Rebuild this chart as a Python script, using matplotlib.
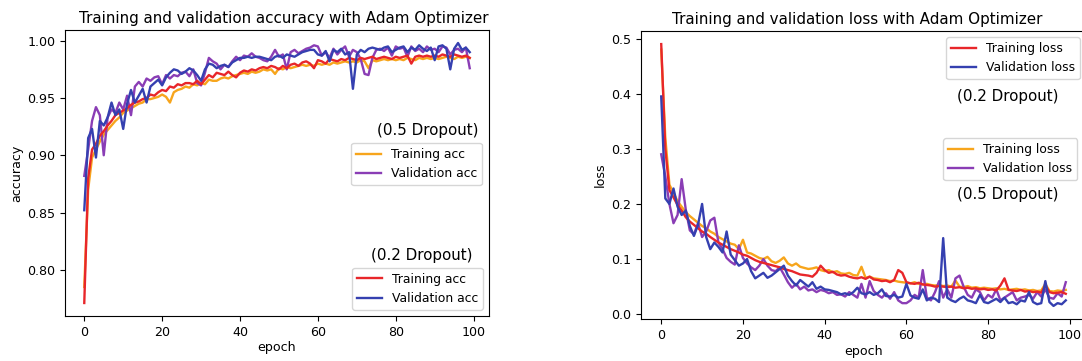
import numpy as np
import matplotlib.pyplot as plt

# --------- accuracy histories (100 epochs) ---------

acc_tr_02 = [0.771, 0.880, 0.905, 0.910, 0.917, 0.921, 0.926, 0.930, 0.935, 0.937,
             0.939, 0.941, 0.944, 0.946, 0.947, 0.949, 0.950, 0.953, 0.952, 0.955,
             0.957, 0.956, 0.960, 0.959, 0.962, 0.961, 0.963, 0.963, 0.962, 0.965,
             0.962, 0.966, 0.970, 0.968, 0.972, 0.971, 0.970, 0.973, 0.970, 0.968,
             0.972, 0.974, 0.973, 0.975, 0.974, 0.976, 0.977, 0.976, 0.978, 0.977,
             0.975, 0.978, 0.976, 0.979, 0.980, 0.978, 0.981, 0.982, 0.980, 0.976,
             0.983, 0.982, 0.980, 0.984, 0.983, 0.982, 0.984, 0.983, 0.985, 0.984,
             0.983, 0.985, 0.984, 0.985, 0.986, 0.984, 0.985, 0.986, 0.985, 0.984,
             0.986, 0.985, 0.986, 0.987, 0.980, 0.986, 0.987, 0.986, 0.987, 0.986,
             0.987, 0.986, 0.988, 0.987, 0.986, 0.988, 0.987, 0.986, 0.987, 0.985]

acc_val_02 = [0.852, 0.915, 0.923, 0.898, 0.930, 0.926, 0.933, 0.946, 0.935, 0.940,
              0.923, 0.945, 0.957, 0.946, 0.952, 0.958, 0.946, 0.960, 0.963, 0.966,
              0.961, 0.968, 0.972, 0.975, 0.974, 0.971, 0.973, 0.976, 0.974, 0.970,
              0.965, 0.975, 0.980, 0.979, 0.976, 0.978, 0.979, 0.977, 0.981, 0.983,
              0.985, 0.985, 0.986, 0.985, 0.986, 0.986, 0.985, 0.984, 0.983, 0.986,
              0.987, 0.985, 0.988, 0.987, 0.986, 0.988, 0.990, 0.991, 0.992, 0.992,
              0.988, 0.987, 0.991, 0.982, 0.992, 0.990, 0.993, 0.988, 0.990, 0.958,
              0.988, 0.992, 0.990, 0.993, 0.994, 0.993, 0.992, 0.994, 0.995, 0.990,
              0.992, 0.994, 0.995, 0.990, 0.994, 0.992, 0.996, 0.993, 0.991, 0.994,
              0.983, 0.995, 0.996, 0.993, 0.975, 0.993, 0.998, 0.992, 0.994, 0.990]

acc_tr_05 = [0.785, 0.870, 0.898, 0.905, 0.912, 0.918, 0.922, 0.926, 0.930, 0.933,
             0.937, 0.939, 0.941, 0.943, 0.945, 0.946, 0.949, 0.949, 0.950, 0.951,
             0.953, 0.951, 0.946, 0.955, 0.957, 0.958, 0.960, 0.959, 0.962, 0.961,
             0.963, 0.962, 0.966, 0.965, 0.965, 0.967, 0.968, 0.967, 0.969, 0.970,
             0.971, 0.972, 0.971, 0.973, 0.972, 0.973, 0.975, 0.974, 0.975, 0.971,
             0.976, 0.975, 0.977, 0.976, 0.977, 0.978, 0.979, 0.978, 0.979, 0.978,
             0.980, 0.979, 0.980, 0.979, 0.981, 0.980, 0.981, 0.982, 0.981, 0.982,
             0.981, 0.983, 0.982, 0.976, 0.983, 0.982, 0.983, 0.984, 0.983, 0.984,
             0.983, 0.984, 0.983, 0.985, 0.984, 0.983, 0.985, 0.984, 0.985, 0.984,
             0.985, 0.984, 0.985, 0.986, 0.985, 0.984, 0.986, 0.985, 0.986, 0.985]

acc_val_05 = [0.882, 0.905, 0.930, 0.942, 0.935, 0.900, 0.933, 0.940, 0.937, 0.946,
              0.940, 0.952, 0.935, 0.960, 0.964, 0.960, 0.967, 0.965, 0.968, 0.969,
              0.962, 0.970, 0.967, 0.970, 0.969, 0.972, 0.973, 0.969, 0.975, 0.963,
              0.961, 0.972, 0.985, 0.982, 0.980, 0.975, 0.979, 0.977, 0.982, 0.986,
              0.983, 0.987, 0.986, 0.989, 0.986, 0.985, 0.983, 0.982, 0.986, 0.992,
              0.986, 0.988, 0.975, 0.990, 0.992, 0.989, 0.991, 0.993, 0.994, 0.996,
              0.995, 0.987, 0.990, 0.985, 0.993, 0.988, 0.992, 0.995, 0.986, 0.992,
              0.990, 0.984, 0.971, 0.970, 0.985, 0.992, 0.993, 0.991, 0.994, 0.987,
              0.995, 0.993, 0.994, 0.986, 0.995, 0.991, 0.993, 0.990, 0.995, 0.992,
              0.993, 0.990, 0.995, 0.994, 0.988, 0.992, 0.993, 0.990, 0.994, 0.976]

# --------- loss histories ---------

loss_tr_02 = [0.490, 0.300, 0.225, 0.212, 0.198, 0.188, 0.176, 0.168, 0.162, 0.156,
              0.150, 0.146, 0.140, 0.135, 0.130, 0.126, 0.122, 0.118, 0.115, 0.112,
              0.108, 0.106, 0.102, 0.098, 0.095, 0.093, 0.091, 0.089, 0.087, 0.085,
              0.082, 0.080, 0.078, 0.075, 0.072, 0.071, 0.070, 0.068, 0.075, 0.088,
              0.080, 0.075, 0.077, 0.072, 0.070, 0.071, 0.068, 0.066, 0.065, 0.067,
              0.064, 0.068, 0.063, 0.062, 0.060, 0.061, 0.058, 0.062, 0.080, 0.075,
              0.058, 0.056, 0.055, 0.057, 0.054, 0.053, 0.052, 0.050, 0.051, 0.050,
              0.049, 0.050, 0.048, 0.049, 0.047, 0.048, 0.046, 0.047, 0.045, 0.046,
              0.044, 0.045, 0.043, 0.052, 0.065, 0.044, 0.043, 0.042, 0.044, 0.041,
              0.042, 0.040, 0.041, 0.039, 0.052, 0.040, 0.038, 0.039, 0.040, 0.037]

loss_val_02 = [0.395, 0.210, 0.200, 0.228, 0.195, 0.180, 0.188, 0.160, 0.142, 0.162,
               0.200, 0.140, 0.118, 0.130, 0.122, 0.112, 0.150, 0.108, 0.098, 0.088,
               0.092, 0.100, 0.078, 0.065, 0.070, 0.075, 0.066, 0.070, 0.076, 0.082,
               0.088, 0.070, 0.060, 0.052, 0.062, 0.056, 0.050, 0.058, 0.046, 0.050,
               0.045, 0.044, 0.042, 0.040, 0.036, 0.038, 0.035, 0.040, 0.048, 0.038,
               0.036, 0.040, 0.035, 0.038, 0.045, 0.033, 0.032, 0.035, 0.030, 0.032,
               0.055, 0.034, 0.030, 0.028, 0.045, 0.025, 0.030, 0.028, 0.022, 0.138,
               0.030, 0.025, 0.022, 0.028, 0.032, 0.025, 0.023, 0.020, 0.035, 0.022,
               0.020, 0.024, 0.028, 0.022, 0.030, 0.020, 0.022, 0.018, 0.025, 0.023,
               0.040, 0.022, 0.018, 0.020, 0.060, 0.022, 0.015, 0.020, 0.018, 0.025]

loss_tr_05 = [0.480, 0.320, 0.235, 0.220, 0.205, 0.195, 0.185, 0.178, 0.172, 0.166,
              0.160, 0.156, 0.150, 0.146, 0.140, 0.136, 0.132, 0.128, 0.126, 0.118,
              0.135, 0.112, 0.110, 0.106, 0.102, 0.100, 0.104, 0.096, 0.093, 0.097,
              0.103, 0.092, 0.088, 0.092, 0.086, 0.084, 0.082, 0.083, 0.085, 0.080,
              0.078, 0.080, 0.076, 0.078, 0.074, 0.073, 0.075, 0.071, 0.070, 0.086,
              0.066, 0.068, 0.065, 0.064, 0.063, 0.062, 0.060, 0.061, 0.059, 0.058,
              0.057, 0.056, 0.058, 0.055, 0.054, 0.055, 0.053, 0.052, 0.053, 0.051,
              0.052, 0.050, 0.061, 0.050, 0.049, 0.051, 0.048, 0.049, 0.047, 0.048,
              0.047, 0.046, 0.047, 0.045, 0.046, 0.044, 0.045, 0.046, 0.044, 0.045,
              0.043, 0.044, 0.042, 0.043, 0.055, 0.042, 0.041, 0.043, 0.042, 0.044]

loss_val_05 = [0.290, 0.250, 0.200, 0.165, 0.180, 0.245, 0.190, 0.152, 0.145, 0.165,
               0.140, 0.150, 0.170, 0.175, 0.130, 0.118, 0.102, 0.095, 0.090, 0.125,
               0.102, 0.092, 0.085, 0.080, 0.088, 0.100, 0.088, 0.080, 0.078, 0.085,
               0.072, 0.058, 0.048, 0.055, 0.045, 0.050, 0.043, 0.045, 0.040, 0.044,
               0.042, 0.038, 0.040, 0.035, 0.036, 0.032, 0.040, 0.035, 0.030, 0.055,
               0.030, 0.060, 0.042, 0.035, 0.030, 0.038, 0.028, 0.040, 0.025, 0.020,
               0.020, 0.025, 0.035, 0.030, 0.080, 0.030, 0.025, 0.040, 0.060, 0.030,
               0.045, 0.030, 0.065, 0.070, 0.050, 0.035, 0.030, 0.045, 0.040, 0.025,
               0.035, 0.030, 0.045, 0.025, 0.030, 0.035, 0.040, 0.025, 0.030, 0.032,
               0.035, 0.028, 0.040, 0.032, 0.045, 0.030, 0.028, 0.038, 0.032, 0.058]

epochs = np.arange(len(acc_tr_02))

RED = '#e8262a'
ORANGE = '#f7a51c'
BLUE = '#3540b0'
PURPLE = '#8a3db5'
LW = 1.7

fig = plt.figure(figsize=(10.82, 3.61), dpi=100)
FS = 10.9    # titles and dropout notes
TFS = 9.1    # ticks and axis labels
LFS = 8.9    # legend entries

# --------- accuracy panel ---------

ax1 = fig.add_axes([65 / 1082, 45 / 361, 424 / 1082, 286 / 361])
l_tr5, = ax1.plot(epochs, acc_tr_05, color=ORANGE, lw=LW, label='Training acc')
l_va5, = ax1.plot(epochs, acc_val_05, color=PURPLE, lw=LW, label='Validation acc')
l_tr2, = ax1.plot(epochs, acc_tr_02, color=RED, lw=LW, label='Training acc')
l_va2, = ax1.plot(epochs, acc_val_02, color=BLUE, lw=LW, label='Validation acc')
ax1.set_title('Training and validation accuracy with Adam Optimizer', fontsize=FS, pad=5, x=0.515)
ax1.set_xlabel('epoch', fontsize=TFS, labelpad=2)
ax1.set_ylabel('accuracy', fontsize=TFS, labelpad=3)
ax1.tick_params(labelsize=TFS)
ax1.set_yticks([0.80, 0.85, 0.90, 0.95, 1.00])
ax1.set_xticks([0, 20, 40, 60, 80, 100])

leg5 = ax1.legend(handles=[l_tr5, l_va5], loc='upper right', bbox_to_anchor=(0.983, 0.605),
                  borderaxespad=0, fontsize=LFS)
ax1.add_artist(leg5)
ax1.legend(handles=[l_tr2, l_va2], loc='lower right', fontsize=LFS)
ax1.text(0.975, 0.648, '(0.5 Dropout)', transform=ax1.transAxes, ha='right', va='center', fontsize=FS)
ax1.text(0.96, 0.213, '(0.2 Dropout)', transform=ax1.transAxes, ha='right', va='center', fontsize=FS)

# --------- loss panel ---------

ax2 = fig.add_axes([641 / 1082, 42 / 361, 445 / 1082, 288 / 361])
m_tr5, = ax2.plot(epochs, loss_tr_05, color=ORANGE, lw=LW, label='Training loss')
m_va5, = ax2.plot(epochs, loss_val_05, color=PURPLE, lw=LW, label='Validation loss')
m_tr2, = ax2.plot(epochs, loss_tr_02, color=RED, lw=LW, label='Training loss')
m_va2, = ax2.plot(epochs, loss_val_02, color=BLUE, lw=LW, label='Validation loss')
ax2.set_title('Training and validation loss with Adam Optimizer', fontsize=FS, pad=5, x=0.485)
ax2.set_xlabel('epoch', fontsize=TFS, labelpad=2)
ax2.set_ylabel('loss', fontsize=TFS, labelpad=3)
ax2.tick_params(labelsize=TFS)
ax2.set_xticks([0, 20, 40, 60, 80, 100])

leg2 = ax2.legend(handles=[m_tr2, m_va2], loc='upper right', fontsize=LFS)
ax2.add_artist(leg2)
ax2.legend(handles=[m_tr5, m_va5], loc='upper right', bbox_to_anchor=(0.98, 0.628),
           borderaxespad=0, fontsize=LFS)
ax2.text(0.825, 0.774, '(0.2 Dropout)', transform=ax2.transAxes, ha='center', va='center', fontsize=FS)
ax2.text(0.825, 0.434, '(0.5 Dropout)', transform=ax2.transAxes, ha='center', va='center', fontsize=FS)

plt.savefig('out.png', dpi=100)
